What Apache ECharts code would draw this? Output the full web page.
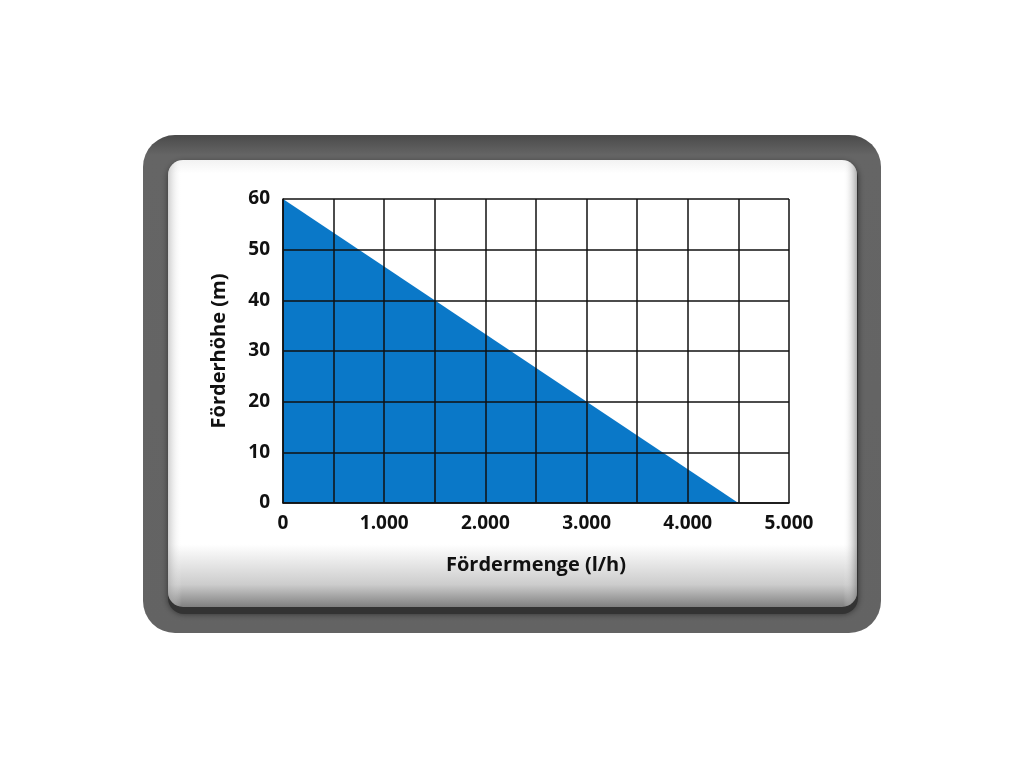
<!DOCTYPE html>
<html><head><meta charset="utf-8">
<script src="https://cdn.jsdelivr.net/npm/echarts@6/dist/echarts.min.js"></script>
<style>html,body{margin:0;padding:0;background:#fff}#c{width:1024px;height:768px}</style>
</head><body><div id="c"></div>
<script>
const flowRate = [0, 4500];        // Fördermenge (l/h)
const headHeight = [60, 0];        // Förderhöhe (m)
const xTicks = [0, 1000, 2000, 3000, 4000, 5000];
const yTicks = [0, 10, 20, 30, 40, 50, 60];

const chart = echarts.init(document.getElementById('c'));
const font = 'Open Sans';
const data = flowRate.map((x, i) => [x, headHeight[i]]);
chart.setOption({
  backgroundColor: '#ffffff',
  animation: false,
  graphic: [
    { type: 'rect', z: -10, shape: { x: 143, y: 135, width: 738, height: 498, r: 32 },
      style: { fill: new echarts.graphic.LinearGradient(0, 0, 0, 1, [
        { offset: 0, color: '#4a4a4a' }, { offset: 0.04, color: '#656565' }, { offset: 1, color: '#636363' }]) } },
    { type: 'rect', z: -9, shape: { x: 168, y: 162, width: 690, height: 452, r: 16 },
      style: { fill: '#333333', shadowBlur: 6, shadowColor: 'rgba(0,0,0,0.5)' } },
    { type: 'rect', z: -8, shape: { x: 168, y: 160, width: 689, height: 447, r: 15 },
      style: { fill: new echarts.graphic.LinearGradient(0, 0, 0, 1, [
        { offset: 0, color: '#f2f2f2' }, { offset: 0.03, color: '#ffffff' }, { offset: 0.86, color: '#ffffff' },
        { offset: 0.95, color: '#cccccc' }, { offset: 1, color: '#808080' }]) } },
    { type: 'rect', z: -7, shape: { x: 168, y: 160, width: 689, height: 447, r: 15 },
      style: { fill: new echarts.graphic.LinearGradient(0, 0, 1, 0, [
        { offset: 0, color: 'rgba(160,160,160,0.5)' }, { offset: 0.02, color: 'rgba(255,255,255,0)' },
        { offset: 0.98, color: 'rgba(255,255,255,0)' }, { offset: 1, color: 'rgba(120,120,120,0.6)' }]) } }
  ],
  grid: { left: 283, top: 199, right: 235, bottom: 265, show: false },
  xAxis: {
    type: 'value', min: 0, max: 5000, interval: 500, z: 5,
    name: 'Fördermenge (l/h)', nameLocation: 'middle', nameGap: 52,
    nameTextStyle: { fontFamily: font, fontWeight: 'bold', fontSize: 20, color: '#111' },
    axisLine: { show: true, lineStyle: { color: '#111', width: 1.5 } },
    axisTick: { show: false },
    splitLine: { show: true, lineStyle: { color: '#111', width: 1.5 } },
    axisLabel: { margin: 11, fontFamily: font, fontWeight: 'bold', fontSize: 19, color: '#111',
      formatter: v => xTicks.includes(v) ? (v === 0 ? '0' : (v / 1000).toFixed(3)) : '' }
  },
  yAxis: {
    type: 'value', min: 0, max: 60, interval: 10, z: 5,
    name: 'Förderhöhe (m)', nameLocation: 'middle', nameGap: 54,
    nameTextStyle: { fontFamily: font, fontWeight: 'bold', fontSize: 20, color: '#111' },
    axisLine: { show: true, lineStyle: { color: '#111', width: 1.5 } },
    axisTick: { show: false },
    splitLine: { show: true, lineStyle: { color: '#111', width: 1.5 } },
    axisLabel: { margin: 13, padding: [4, 0, 0, 0], fontFamily: font, fontWeight: 'bold', fontSize: 19, color: '#111',
      formatter: v => yTicks.includes(v) ? String(v) : '' }
  },
  series: [{
    type: 'line', data: data, z: 1, symbol: 'none',
    lineStyle: { width: 0 },
    areaStyle: { color: '#0a78c8', opacity: 1 }
  }]
});
</script></body></html>
